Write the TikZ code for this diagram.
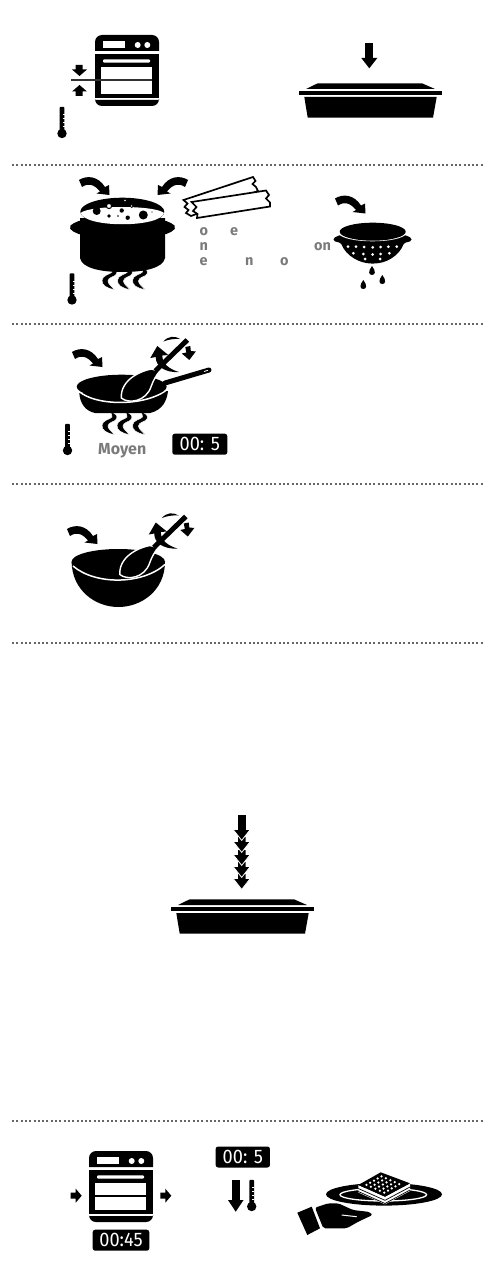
\documentclass[tikz,border=0pt]{standalone}
\usepackage{fontspec}
\setmainfont{Fira Sans}
\usepackage{graphicx}
\usepackage{xcolor}
\usetikzlibrary{positioning}
\definecolor{labelgray}{HTML}{7A7A7A}
\newcommand{\timertext}[1]{\scalebox{1.3}[1.4]{#1}}
\tikzset{
    sepline/.style={black!60, line width=2pt, dash pattern=on 2pt off 2.3pt},
    graytext/.style={anchor=base west, inner sep=0pt, text=labelgray, font=\bfseries\fontsize{14.5}{14.5}\selectfont},
    timer/.style={fill=black, rounded corners=2.5pt, inner sep=0pt, text=white, minimum height=21pt, font=\fontsize{14}{14}\selectfont},
    pics/oven/.style={code={
        \fill (0,16) [rounded corners=7pt] -- (0,0) -- (64,0) [sharp corners] -- (64,16) -- cycle;
        \fill[white] (8,6) rectangle (30,13);
        \fill[white] (42.7,10) circle (3);
        \fill[white] (52.3,10) circle (3);
        \fill (0,19.3) rectangle (64,62.7);
        \fill[white, rounded corners=1pt] (8,24.3) rectangle (55,27.7);
        \fill[white] (6,31.7) rectangle (57,59);
        \fill (0,65) [sharp corners] -- (64,65) [rounded corners=7pt] -- (64,71) -- (0,71) [sharp corners] -- cycle;
    }},
    pics/dish/.style={code={
        \fill (317.7,83.3) -- (422,83.3) -- (435,89) -- (306,89) -- cycle;
        \fill (299,91) rectangle (442,94.7);
        \fill (304.3,97) -- (436.7,97) -- (433,117.7) -- (307.7,117.7) -- cycle;
    }},
    pics/downhead/.style={code={
        \filldraw[draw=white, line width=0.8pt] (-8.6,-10.5) -- (-4.2,-10.5) -- (-4.2,-15.5) -- (4.2,-15.5) -- (4.2,-10.5) -- (8.6,-10.5) -- (0,0.4) -- cycle;
    }},
    pics/thermo/.style={code={
        \fill (0,0) circle (4.7);
        \fill[rounded corners=1pt] (-2.4,-2) -- (-2.4,-26.7) -- (2.4,-26.7) -- (2.4,-2) -- cycle;
        \foreach \tick in {-7,-11,-15,-19}
            \draw[white, line width=0.8pt] (0.5,\tick) -- (2.6,\tick);
    }},
    pics/bentarrow/.style={code={
        \fill (0,0) .. controls (8,-5) and (19,-4) .. (26,7) -- (30,5) -- (30.5,15) -- (17.5,13.5) -- (21,11.5)
            .. controls (15,4) and (9,3) .. (3,7) -- cycle;
    }},
    pics/flame/.style={code={
        \filldraw[draw=white, line width=0.5pt] (0,0) .. controls (5,1) and (7.5,4) .. (6,7) .. controls (4.5,10) and (-2.5,10) .. (-2.5,14)
            .. controls (-2.5,17) and (1,19) .. (4,22.5) .. controls (-4,21.5) and (-9,18) .. (-8.5,13)
            .. controls (-8,8) and (0.5,7) .. (1.5,5) .. controls (1.8,3) and (0.5,1.5) .. (0,0) -- cycle;
    }},
    pics/sidearrow/.style={code={
        \fill (0,-3) -- (5,-3) -- (5,-7) -- (11,0) -- (5,7) -- (5,3) -- (0,3) -- cycle;
    }},
    pics/stir/.style={code={
        \draw[white, line width=8pt] (-33,32) -- (-2,2);
        % spoon bowl
        \filldraw[draw=white, line width=1.4pt] (-37,31) .. controls (-48,33) and (-68,42) .. (-67,60)
            .. controls (-60,66) and (-42,64) .. (-37,48) .. controls (-35,42) and (-32,38) .. (-29,33) -- cycle;
        \draw[line width=5pt] (-33,33) -- (-1,2);
        % turning arrows round the handle
        \fill (-38,20) -- (-31,8) -- (-20,17) -- (-26,17.5) .. controls (-26,26) and (-19,31) .. (-9.5,34)
            .. controls (-23,35) and (-33,28) .. (-32.5,19) -- cycle;
        \fill (-25,3.5) .. controls (-20,-2) and (-14,-2.5) .. (-8,1) .. controls (-14,0.5) and (-20,1.5) .. (-25,3.5) -- cycle;
        \fill (-3,9) -- (2,8) -- (2.5,13) -- (7.5,13.5) -- (1,22) -- (-6.5,15.5) -- (-2,14.5) -- cycle;
    }},
}

\begin{document}
\begin{tikzpicture}[x=1pt, y=-1pt]
    \useasboundingbox (0,0) rectangle (490,1276);

    % Separators between the steps
    \foreach \sepy in {165,324,483.5,642.5,1120.5}
        \draw[sepline] (12,\sepy) -- (484,\sepy);

    % First step - oven and dish
    \pic at (95,35) {oven};
    \draw[line width=1.4pt, black!80] (70.7,80) -- (152,80);
    \fill (72,69.5) -- (75.5,69.5) -- (75.5,65) -- (82.5,65) -- (82.5,69.5) -- (87,69.5) -- (79.5,76) -- cycle;
    \fill (72,91.5) -- (75.5,91.5) -- (75.5,96) -- (82.5,96) -- (82.5,91.5) -- (87,91.5) -- (79.5,85) -- cycle;
    \pic at (62,133.5) {thermo};
    \pic at (0,0) {dish};
    \fill (365.3,43.3) rectangle (373.3,58);
    \fill (361.3,58) -- (377.3,58) -- (369.3,68.3) -- cycle;

    % Second step - pot, pasta, colander
    % pot
    \foreach \fx in {110.5,126,141}
        \pic at (\fx,267) {flame};
    \fill (80,218) -- (80,258) .. controls (82,268) and (100,272) .. (122.5,272) .. controls (145,272) and (163,268) .. (165,258) -- (165,218) -- cycle;
    \fill[rounded corners=2pt] (81,220) -- (72,224) -- (69,227) -- (72,231) -- (81,235) -- cycle;
    \fill[rounded corners=2pt] (164,220) -- (173,224) -- (176,227) -- (173,231) -- (164,235) -- cycle;
    \fill (122.3,211.7) ellipse (42 and 14);
    \fill[white] (80.5,213) .. controls (90,205) and (155,205) .. (164,213) .. controls (160,228) and (85,228) .. (80.5,213) -- cycle;
    \fill (96.7,211) circle (4);
    \fill (143.3,215) circle (4.5);
    \filldraw[draw=black, fill=white, line width=1pt] (109,206) circle (2.6);
    \filldraw[draw=black, fill=white, line width=0.8pt] (131.7,206) circle (1.6);
    \filldraw[draw=black, fill=white, line width=1pt] (125,200.5) circle (1.8);
    \foreach \bx/\by/\br in {109/216/1.8, 121.7/210.5/2.2, 127.7/217.7/2.2, 118/216/0.8, 152/212/0.7}
        \fill (\bx,\by) circle (\br);
    \pic at (79,180) {bentarrow};
    \pic[xscale=-1] at (188,180) {bentarrow};
    \pic at (72,300) {thermo};
    % pasta sheets
    \filldraw[fill=white, line width=1.7pt] (183.5,200) -- (253,177) -- (255.5,181) -- (252.5,184) -- (256,187) -- (258,191)
        -- (191,216) -- (186,213) -- (188.5,210) -- (184.5,207) -- (187.5,203.5) -- cycle;
    \filldraw[fill=white, line width=1.7pt] (191.5,202) -- (266,190.5) -- (269,195) -- (266,198.5) -- (270,202.5) -- (270,206.5)
        -- (197,218) -- (197.5,214) -- (193,211) -- (196.5,207) -- cycle;
    \node[graytext] (pastaa) at (199.5,235) {o};
    \node[graytext] (pastab) at (230,235) {e};
    \node[graytext] (pastac) at (199.5,250) {n};
    \node[graytext] (pastad) at (314,250) {on};
    \node[graytext] (pastae) at (199.5,265) {e};
    \node[graytext] (pastaf) at (245,265) {n};
    \node[graytext] (pastag) at (280,265) {o};
    % colander
    \fill[rounded corners=1.5pt] (340,235) -- (333.5,238) -- (333.5,241) -- (341,243) .. controls (346,256) and (360,263.5) .. (372.7,263.5)
        .. controls (386,263.5) and (399,256) .. (404,243) -- (411.5,241) -- (411.5,238) -- (405,235) -- cycle;
    \draw[white, line width=1.6pt] (339,233) .. controls (345,243) and (400,243) .. (406,233);
    \fill (372.7,231.7) ellipse (33 and 9);
    \foreach \dx/\dy in {348/246.7,356/246.7,364/247,372.7/247.3,380.7/247,388.3/246.7,396.7/246.7,
                         353.3/253.3,363.3/254,372.7/254.5,380.7/254,389.3/253.3,365/259,380/259}
        \fill[white] (\dx,\dy) circle (1.5);
    \foreach \dx/\dy in {372/266,363.3/280,382.3/275}
        \fill (\dx,\dy) .. controls (\dx+4,\dy+5) and (\dx+3.5,\dy+9) .. (\dx,\dy+9) .. controls (\dx-3.5,\dy+9) and (\dx-4,\dy+5) .. (\dx,\dy) -- cycle;
    \pic at (335,198.5) {bentarrow};

    % Third step - pan with spoon
    \foreach \fx in {110.5,125.5,141}
        \pic at (\fx,412) {flame};
    \fill (79.3,393) .. controls (80,403) and (85,411) .. (95,413) -- (150,413) .. controls (163,410) and (167,400) .. (168,391) -- cycle;
    \draw[white, line width=1.5pt] (78,390.5) .. controls (95,407) and (150,407) .. (170,387);
    \fill (121.7,386.7) ellipse (45 and 12);
    \draw[line width=5pt, line cap=round] (165,383) -- (209,370);
    \draw[white, line width=0.8pt] (204,371.5) -- (208,370.3);
    \pic at (188.3,338) {stir};
    \pic at (72,352) {bentarrow};
    \pic at (67.5,450.5) {thermo};
    \node[graytext, font=\bfseries\fontsize{16}{16}\selectfont] (moyen) at (98,454.5) {Moyen};
    \node[timer, minimum width=55pt] (timera) at (199.8,444.2) {\timertext{00: 5}};

    % Fourth step - bowl with spoon
    \fill (71.6,561.7) .. controls (72,590) and (95,607) .. (118.3,607) .. controls (142,607) and (165,590) .. (165,561.7) -- cycle;
    \fill (118.3,561.7) ellipse (46.7 and 12.7);
    \draw[white, line width=1.5pt] (73,566) .. controls (95,585) and (142,585) .. (165,564.5);
    \pic at (186.8,514.5) {stir};
    \pic at (67,529) {bentarrow};

    % Fifth step - dish with stacked arrows
    \pic at (-128,816) {dish};
    \foreach \tipy in {889,877,865,852,840}
        \pic at (241.7,\tipy) {downhead};
    \fill (237.5,815) rectangle (245.9,830);

    % Last step - oven, cooling, serving
    \pic at (89,1151) {oven};
    \fill (95,1195) rectangle (147,1196.5);
    \pic at (70.7,1195.7) {sidearrow};
    \pic at (160.3,1195.7) {sidearrow};
    \node[timer, minimum width=56.6pt] (timerb) at (121,1240.2) {\timertext{00:45}};
    \node[timer, minimum width=54.3pt] (timerc) at (242.8,1157) {\timertext{00: 5}};
    \fill (231.7,1180) rectangle (239.7,1202);
    \fill (228,1200) -- (243.5,1200) -- (235.7,1211.7) -- cycle;
    \pic at (251.7,1206.5) {thermo};
    % plate
    \fill (384,1194.3) ellipse (58 and 11.3);
    \draw[white, line width=1.3pt] (383.3,1194.7) ellipse (43.3 and 6.3);
    % layered slice
    \fill[white] (358.3,1185) -- (385,1196.7) -- (410,1183.3) -- (410,1191) -- (385,1204.3) -- (358.3,1192.5) -- cycle;
    \draw[line width=0.7pt] (358.3,1188.5) -- (385,1200.3) -- (410,1187);
    \draw[line width=0.7pt] (358.3,1191.5) -- (385,1203.5) -- (410,1190);
    \fill (358.3,1185) -- (380.7,1172.3) -- (410,1183.3) -- (385,1196.7) -- cycle;
    \foreach \stepu in {1,...,5}
        \foreach \stepv in {1,...,5}
            \fill[white] (358.3+\stepu*3.73+\stepv*4.45,1185-\stepu*2.12+\stepv*1.95) circle (1.25);
    % hand
    \fill (297.3,1212.7) -- (311.7,1206.7) -- (320,1228.3) -- (307.3,1235) -- cycle;
    \fill[rounded corners=2pt] (315,1207.7) -- (328.3,1203.3) -- (338.3,1203.3) -- (353,1210) -- (370,1212) -- (372.5,1215) -- (358.3,1221.7) -- (346.7,1228.3) -- (323.3,1228.3) -- cycle;
    \draw[white, line width=1pt] (341.7,1215) -- (356.7,1216.7);
\end{tikzpicture}
\end{document}
